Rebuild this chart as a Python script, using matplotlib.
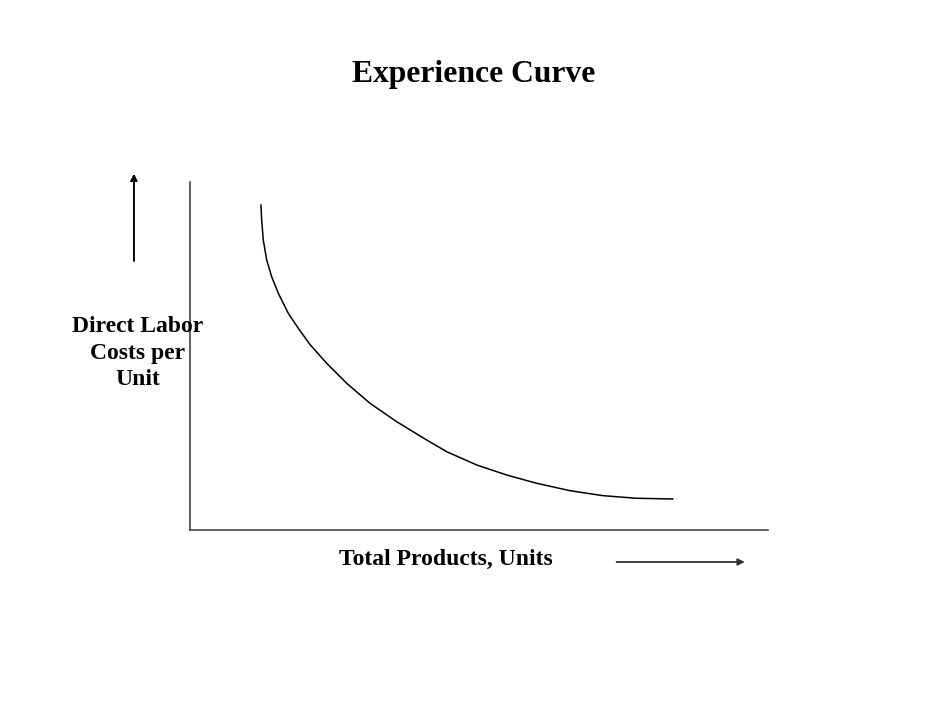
import matplotlib.pyplot as plt

# Curve (axis units 0..100 on both axes)
cum_units = [12.28, 12.40, 12.68, 13.27, 14.13, 15.28, 17.01, 18.74, 20.76, 23.65,
             27.11, 31.14, 35.76, 40.95, 44.41, 49.60, 54.79, 59.98, 65.74, 71.45,
             77.28, 83.51]
labor_cost = [93.39, 89.08, 83.33, 77.59, 72.79, 68.02, 62.27, 57.96, 53.30, 47.90,
              42.16, 36.41, 31.12, 25.86, 22.50, 18.68, 15.80, 13.42, 11.29, 9.86,
              9.11, 8.91]

title = 'Experience Curve'
x_label = 'Total Products, Units'
y_label = 'Direct Labor\nCosts per\nUnit'

plt.rcParams['font.family'] = ['Liberation Serif', 'DejaVu Serif']

fig = plt.figure(figsize=(9.5, 7.13), dpi=100)
ax = fig.add_axes([0.2, 0.2567, 0.6084, 0.488])
ax.plot(cum_units, labor_cost, color='black', linewidth=1.1, solid_joinstyle='round')
ax.set_xlim(0, 100)
ax.set_ylim(0, 100)
ax.set_xticks([])
ax.set_yticks([])
ax.spines['top'].set_visible(False)
ax.spines['right'].set_visible(False)
ax.spines['left'].set_color('#444444')
ax.spines['bottom'].set_color('#444444')
ax.spines['left'].set_linewidth(1.2)
ax.spines['bottom'].set_linewidth(1.2)

fig.text(0.499, 0.895, title, ha='center', va='center', fontsize=22.8, fontweight='bold')
fig.text(0.4695, 0.2160, x_label, ha='center', va='center', fontsize=17, fontweight='bold')
fig.text(0.1447, 0.5049, y_label, ha='center', va='center', fontsize=17, fontweight='bold',
         linespacing=1.36)

# direction arrows
fig.add_artist(plt.annotate('', xy=(0.141, 0.756), xytext=(0.141, 0.634),
                            xycoords='figure fraction',
                            arrowprops=dict(arrowstyle='-|>', color='black', lw=1.1,
                                            mutation_scale=10, shrinkA=0, shrinkB=0)))
ax.annotate('', xy=(0.784, 0.2118), xytext=(0.649, 0.2118),
            xycoords='figure fraction',
            arrowprops=dict(arrowstyle='-|>', color='#333333', lw=1.3,
                            mutation_scale=10, shrinkA=0, shrinkB=0))

fig.savefig('out.png', dpi=100)
plt.close(fig)
